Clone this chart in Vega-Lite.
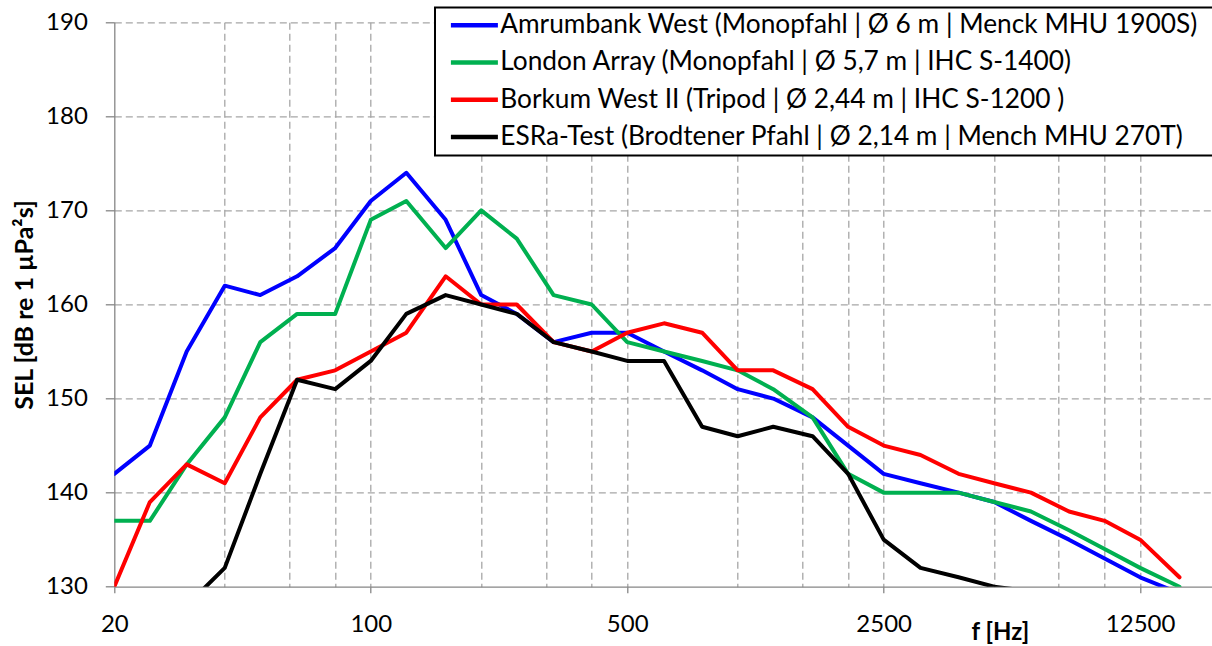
{
  "$schema": "https://vega.github.io/schema/vega-lite/v6.json",
  "width": 1098,
  "height": 564.4,
  "autosize": {"type": "none"},
  "padding": {"left": 114.3, "top": 22.3, "right": 0, "bottom": 59.3},
  "background": "white",
  "config": {
    "view": {"stroke": null},
    "font": "Lato",
    "legend": {"strokeWidth": 2}
  },
  "datasets": {
    "sel": [
      {"f": 20, "SEL": 142, "Anlage": "Amrumbank West (Monopfahl | Ø 6 m | Menck MHU 1900S)"},
      {"f": 25, "SEL": 145, "Anlage": "Amrumbank West (Monopfahl | Ø 6 m | Menck MHU 1900S)"},
      {"f": 31.5, "SEL": 155, "Anlage": "Amrumbank West (Monopfahl | Ø 6 m | Menck MHU 1900S)"},
      {"f": 40, "SEL": 162, "Anlage": "Amrumbank West (Monopfahl | Ø 6 m | Menck MHU 1900S)"},
      {"f": 50, "SEL": 161, "Anlage": "Amrumbank West (Monopfahl | Ø 6 m | Menck MHU 1900S)"},
      {"f": 63, "SEL": 163, "Anlage": "Amrumbank West (Monopfahl | Ø 6 m | Menck MHU 1900S)"},
      {"f": 80, "SEL": 166, "Anlage": "Amrumbank West (Monopfahl | Ø 6 m | Menck MHU 1900S)"},
      {"f": 100, "SEL": 171, "Anlage": "Amrumbank West (Monopfahl | Ø 6 m | Menck MHU 1900S)"},
      {"f": 125, "SEL": 174, "Anlage": "Amrumbank West (Monopfahl | Ø 6 m | Menck MHU 1900S)"},
      {"f": 160, "SEL": 169, "Anlage": "Amrumbank West (Monopfahl | Ø 6 m | Menck MHU 1900S)"},
      {"f": 200, "SEL": 161, "Anlage": "Amrumbank West (Monopfahl | Ø 6 m | Menck MHU 1900S)"},
      {"f": 250, "SEL": 159, "Anlage": "Amrumbank West (Monopfahl | Ø 6 m | Menck MHU 1900S)"},
      {"f": 315, "SEL": 156, "Anlage": "Amrumbank West (Monopfahl | Ø 6 m | Menck MHU 1900S)"},
      {"f": 400, "SEL": 157, "Anlage": "Amrumbank West (Monopfahl | Ø 6 m | Menck MHU 1900S)"},
      {"f": 500, "SEL": 157, "Anlage": "Amrumbank West (Monopfahl | Ø 6 m | Menck MHU 1900S)"},
      {"f": 630, "SEL": 155, "Anlage": "Amrumbank West (Monopfahl | Ø 6 m | Menck MHU 1900S)"},
      {"f": 800, "SEL": 153, "Anlage": "Amrumbank West (Monopfahl | Ø 6 m | Menck MHU 1900S)"},
      {"f": 1000, "SEL": 151, "Anlage": "Amrumbank West (Monopfahl | Ø 6 m | Menck MHU 1900S)"},
      {"f": 1250, "SEL": 150, "Anlage": "Amrumbank West (Monopfahl | Ø 6 m | Menck MHU 1900S)"},
      {"f": 1600, "SEL": 148, "Anlage": "Amrumbank West (Monopfahl | Ø 6 m | Menck MHU 1900S)"},
      {"f": 2000, "SEL": 145, "Anlage": "Amrumbank West (Monopfahl | Ø 6 m | Menck MHU 1900S)"},
      {"f": 2500, "SEL": 142, "Anlage": "Amrumbank West (Monopfahl | Ø 6 m | Menck MHU 1900S)"},
      {"f": 3150, "SEL": 141, "Anlage": "Amrumbank West (Monopfahl | Ø 6 m | Menck MHU 1900S)"},
      {"f": 4000, "SEL": 140, "Anlage": "Amrumbank West (Monopfahl | Ø 6 m | Menck MHU 1900S)"},
      {"f": 5000, "SEL": 139, "Anlage": "Amrumbank West (Monopfahl | Ø 6 m | Menck MHU 1900S)"},
      {"f": 6300, "SEL": 137, "Anlage": "Amrumbank West (Monopfahl | Ø 6 m | Menck MHU 1900S)"},
      {"f": 8000, "SEL": 135, "Anlage": "Amrumbank West (Monopfahl | Ø 6 m | Menck MHU 1900S)"},
      {"f": 10000, "SEL": 133, "Anlage": "Amrumbank West (Monopfahl | Ø 6 m | Menck MHU 1900S)"},
      {"f": 12500, "SEL": 131, "Anlage": "Amrumbank West (Monopfahl | Ø 6 m | Menck MHU 1900S)"},
      {"f": 16000, "SEL": 129.3, "Anlage": "Amrumbank West (Monopfahl | Ø 6 m | Menck MHU 1900S)"},
      {"f": 20, "SEL": 137, "Anlage": "London Array (Monopfahl | Ø 5,7 m | IHC S-1400)"},
      {"f": 25, "SEL": 137, "Anlage": "London Array (Monopfahl | Ø 5,7 m | IHC S-1400)"},
      {"f": 31.5, "SEL": 143, "Anlage": "London Array (Monopfahl | Ø 5,7 m | IHC S-1400)"},
      {"f": 40, "SEL": 148, "Anlage": "London Array (Monopfahl | Ø 5,7 m | IHC S-1400)"},
      {"f": 50, "SEL": 156, "Anlage": "London Array (Monopfahl | Ø 5,7 m | IHC S-1400)"},
      {"f": 63, "SEL": 159, "Anlage": "London Array (Monopfahl | Ø 5,7 m | IHC S-1400)"},
      {"f": 80, "SEL": 159, "Anlage": "London Array (Monopfahl | Ø 5,7 m | IHC S-1400)"},
      {"f": 100, "SEL": 169, "Anlage": "London Array (Monopfahl | Ø 5,7 m | IHC S-1400)"},
      {"f": 125, "SEL": 171, "Anlage": "London Array (Monopfahl | Ø 5,7 m | IHC S-1400)"},
      {"f": 160, "SEL": 166, "Anlage": "London Array (Monopfahl | Ø 5,7 m | IHC S-1400)"},
      {"f": 200, "SEL": 170, "Anlage": "London Array (Monopfahl | Ø 5,7 m | IHC S-1400)"},
      {"f": 250, "SEL": 167, "Anlage": "London Array (Monopfahl | Ø 5,7 m | IHC S-1400)"},
      {"f": 315, "SEL": 161, "Anlage": "London Array (Monopfahl | Ø 5,7 m | IHC S-1400)"},
      {"f": 400, "SEL": 160, "Anlage": "London Array (Monopfahl | Ø 5,7 m | IHC S-1400)"},
      {"f": 500, "SEL": 156, "Anlage": "London Array (Monopfahl | Ø 5,7 m | IHC S-1400)"},
      {"f": 630, "SEL": 155, "Anlage": "London Array (Monopfahl | Ø 5,7 m | IHC S-1400)"},
      {"f": 800, "SEL": 154, "Anlage": "London Array (Monopfahl | Ø 5,7 m | IHC S-1400)"},
      {"f": 1000, "SEL": 153, "Anlage": "London Array (Monopfahl | Ø 5,7 m | IHC S-1400)"},
      {"f": 1250, "SEL": 151, "Anlage": "London Array (Monopfahl | Ø 5,7 m | IHC S-1400)"},
      {"f": 1600, "SEL": 148, "Anlage": "London Array (Monopfahl | Ø 5,7 m | IHC S-1400)"},
      {"f": 2000, "SEL": 142, "Anlage": "London Array (Monopfahl | Ø 5,7 m | IHC S-1400)"},
      {"f": 2500, "SEL": 140, "Anlage": "London Array (Monopfahl | Ø 5,7 m | IHC S-1400)"},
      {"f": 3150, "SEL": 140, "Anlage": "London Array (Monopfahl | Ø 5,7 m | IHC S-1400)"},
      {"f": 4000, "SEL": 140, "Anlage": "London Array (Monopfahl | Ø 5,7 m | IHC S-1400)"},
      {"f": 5000, "SEL": 139, "Anlage": "London Array (Monopfahl | Ø 5,7 m | IHC S-1400)"},
      {"f": 6300, "SEL": 138, "Anlage": "London Array (Monopfahl | Ø 5,7 m | IHC S-1400)"},
      {"f": 8000, "SEL": 136, "Anlage": "London Array (Monopfahl | Ø 5,7 m | IHC S-1400)"},
      {"f": 10000, "SEL": 134, "Anlage": "London Array (Monopfahl | Ø 5,7 m | IHC S-1400)"},
      {"f": 12500, "SEL": 132, "Anlage": "London Array (Monopfahl | Ø 5,7 m | IHC S-1400)"},
      {"f": 16000, "SEL": 130, "Anlage": "London Array (Monopfahl | Ø 5,7 m | IHC S-1400)"},
      {"f": 20, "SEL": 130, "Anlage": "Borkum West II (Tripod | Ø 2,44 m | IHC S-1200 )"},
      {"f": 25, "SEL": 139, "Anlage": "Borkum West II (Tripod | Ø 2,44 m | IHC S-1200 )"},
      {"f": 31.5, "SEL": 143, "Anlage": "Borkum West II (Tripod | Ø 2,44 m | IHC S-1200 )"},
      {"f": 40, "SEL": 141, "Anlage": "Borkum West II (Tripod | Ø 2,44 m | IHC S-1200 )"},
      {"f": 50, "SEL": 148, "Anlage": "Borkum West II (Tripod | Ø 2,44 m | IHC S-1200 )"},
      {"f": 63, "SEL": 152, "Anlage": "Borkum West II (Tripod | Ø 2,44 m | IHC S-1200 )"},
      {"f": 80, "SEL": 153, "Anlage": "Borkum West II (Tripod | Ø 2,44 m | IHC S-1200 )"},
      {"f": 100, "SEL": 155, "Anlage": "Borkum West II (Tripod | Ø 2,44 m | IHC S-1200 )"},
      {"f": 125, "SEL": 157, "Anlage": "Borkum West II (Tripod | Ø 2,44 m | IHC S-1200 )"},
      {"f": 160, "SEL": 163, "Anlage": "Borkum West II (Tripod | Ø 2,44 m | IHC S-1200 )"},
      {"f": 200, "SEL": 160, "Anlage": "Borkum West II (Tripod | Ø 2,44 m | IHC S-1200 )"},
      {"f": 250, "SEL": 160, "Anlage": "Borkum West II (Tripod | Ø 2,44 m | IHC S-1200 )"},
      {"f": 315, "SEL": 156, "Anlage": "Borkum West II (Tripod | Ø 2,44 m | IHC S-1200 )"},
      {"f": 400, "SEL": 155, "Anlage": "Borkum West II (Tripod | Ø 2,44 m | IHC S-1200 )"},
      {"f": 500, "SEL": 157, "Anlage": "Borkum West II (Tripod | Ø 2,44 m | IHC S-1200 )"},
      {"f": 630, "SEL": 158, "Anlage": "Borkum West II (Tripod | Ø 2,44 m | IHC S-1200 )"},
      {"f": 800, "SEL": 157, "Anlage": "Borkum West II (Tripod | Ø 2,44 m | IHC S-1200 )"},
      {"f": 1000, "SEL": 153, "Anlage": "Borkum West II (Tripod | Ø 2,44 m | IHC S-1200 )"},
      {"f": 1250, "SEL": 153, "Anlage": "Borkum West II (Tripod | Ø 2,44 m | IHC S-1200 )"},
      {"f": 1600, "SEL": 151, "Anlage": "Borkum West II (Tripod | Ø 2,44 m | IHC S-1200 )"},
      {"f": 2000, "SEL": 147, "Anlage": "Borkum West II (Tripod | Ø 2,44 m | IHC S-1200 )"},
      {"f": 2500, "SEL": 145, "Anlage": "Borkum West II (Tripod | Ø 2,44 m | IHC S-1200 )"},
      {"f": 3150, "SEL": 144, "Anlage": "Borkum West II (Tripod | Ø 2,44 m | IHC S-1200 )"},
      {"f": 4000, "SEL": 142, "Anlage": "Borkum West II (Tripod | Ø 2,44 m | IHC S-1200 )"},
      {"f": 5000, "SEL": 141, "Anlage": "Borkum West II (Tripod | Ø 2,44 m | IHC S-1200 )"},
      {"f": 6300, "SEL": 140, "Anlage": "Borkum West II (Tripod | Ø 2,44 m | IHC S-1200 )"},
      {"f": 8000, "SEL": 138, "Anlage": "Borkum West II (Tripod | Ø 2,44 m | IHC S-1200 )"},
      {"f": 10000, "SEL": 137, "Anlage": "Borkum West II (Tripod | Ø 2,44 m | IHC S-1200 )"},
      {"f": 12500, "SEL": 135, "Anlage": "Borkum West II (Tripod | Ø 2,44 m | IHC S-1200 )"},
      {"f": 16000, "SEL": 131, "Anlage": "Borkum West II (Tripod | Ø 2,44 m | IHC S-1200 )"},
      {"f": 31.5, "SEL": 128, "Anlage": "ESRa-Test (Brodtener Pfahl | Ø 2,14 m | Mench MHU 270T)"},
      {"f": 40, "SEL": 132, "Anlage": "ESRa-Test (Brodtener Pfahl | Ø 2,14 m | Mench MHU 270T)"},
      {"f": 50, "SEL": 142, "Anlage": "ESRa-Test (Brodtener Pfahl | Ø 2,14 m | Mench MHU 270T)"},
      {"f": 63, "SEL": 152, "Anlage": "ESRa-Test (Brodtener Pfahl | Ø 2,14 m | Mench MHU 270T)"},
      {"f": 80, "SEL": 151, "Anlage": "ESRa-Test (Brodtener Pfahl | Ø 2,14 m | Mench MHU 270T)"},
      {"f": 100, "SEL": 154, "Anlage": "ESRa-Test (Brodtener Pfahl | Ø 2,14 m | Mench MHU 270T)"},
      {"f": 125, "SEL": 159, "Anlage": "ESRa-Test (Brodtener Pfahl | Ø 2,14 m | Mench MHU 270T)"},
      {"f": 160, "SEL": 161, "Anlage": "ESRa-Test (Brodtener Pfahl | Ø 2,14 m | Mench MHU 270T)"},
      {"f": 200, "SEL": 160, "Anlage": "ESRa-Test (Brodtener Pfahl | Ø 2,14 m | Mench MHU 270T)"},
      {"f": 250, "SEL": 159, "Anlage": "ESRa-Test (Brodtener Pfahl | Ø 2,14 m | Mench MHU 270T)"},
      {"f": 315, "SEL": 156, "Anlage": "ESRa-Test (Brodtener Pfahl | Ø 2,14 m | Mench MHU 270T)"},
      {"f": 400, "SEL": 155, "Anlage": "ESRa-Test (Brodtener Pfahl | Ø 2,14 m | Mench MHU 270T)"},
      {"f": 500, "SEL": 154, "Anlage": "ESRa-Test (Brodtener Pfahl | Ø 2,14 m | Mench MHU 270T)"},
      {"f": 630, "SEL": 154, "Anlage": "ESRa-Test (Brodtener Pfahl | Ø 2,14 m | Mench MHU 270T)"},
      {"f": 800, "SEL": 147, "Anlage": "ESRa-Test (Brodtener Pfahl | Ø 2,14 m | Mench MHU 270T)"},
      {"f": 1000, "SEL": 146, "Anlage": "ESRa-Test (Brodtener Pfahl | Ø 2,14 m | Mench MHU 270T)"},
      {"f": 1250, "SEL": 147, "Anlage": "ESRa-Test (Brodtener Pfahl | Ø 2,14 m | Mench MHU 270T)"},
      {"f": 1600, "SEL": 146, "Anlage": "ESRa-Test (Brodtener Pfahl | Ø 2,14 m | Mench MHU 270T)"},
      {"f": 2000, "SEL": 142, "Anlage": "ESRa-Test (Brodtener Pfahl | Ø 2,14 m | Mench MHU 270T)"},
      {"f": 2500, "SEL": 135, "Anlage": "ESRa-Test (Brodtener Pfahl | Ø 2,14 m | Mench MHU 270T)"},
      {"f": 3150, "SEL": 132, "Anlage": "ESRa-Test (Brodtener Pfahl | Ø 2,14 m | Mench MHU 270T)"},
      {"f": 4000, "SEL": 131, "Anlage": "ESRa-Test (Brodtener Pfahl | Ø 2,14 m | Mench MHU 270T)"},
      {"f": 5000, "SEL": 130, "Anlage": "ESRa-Test (Brodtener Pfahl | Ø 2,14 m | Mench MHU 270T)"},
      {"f": 6300, "SEL": 129.5, "Anlage": "ESRa-Test (Brodtener Pfahl | Ø 2,14 m | Mench MHU 270T)"}
    ]
  },
  "data": {"name": "sel"},
  "mark": {"type": "line", "strokeWidth": 4, "strokeJoin": "round", "strokeCap": "round", "clip": true},
  "encoding": {
    "x": {
      "field": "f",
      "type": "quantitative",
      "scale": {"type": "log", "domain": [20, 19660], "nice": false},
      "axis": {
        "values": [20, 40, 60, 80, 100, 200, 300, 400, 500, 1000, 1500, 2000, 2500, 5000, 7500, 10000, 12500],
        "format": "d",
        "labelExpr": "(datum.value == 20 || datum.value == 100 || datum.value == 500 || datum.value == 2500 || datum.value == 12500) ? datum.label : ''",
        "labelOverlap": false,
        "labelFlush": false,
        "labelFont": "Lato",
        "labelFontSize": 24,
        "labelColor": "#000000",
        "labelPadding": 20,
        "tickSize": 6,
        "tickWidth": 1.3,
        "tickColor": "#868686",
        "tickOpacity": {"condition": {"test": "datum.value == 20 || datum.value == 100 || datum.value == 500 || datum.value == 2500 || datum.value == 12500", "value": 1}, "value": 0},
        "grid": true,
        "gridColor": "#A6A6A6",
        "gridWidth": 1.3,
        "gridDash": [7, 4],
        "gridOpacity": {"condition": {"test": "datum.value == 20", "value": 0}, "value": 1},
        "domainColor": "#868686",
        "domainWidth": 1.3,
        "title": "f [Hz]",
        "titleFont": "Lato",
        "titleFontSize": 24,
        "titleFontWeight": "bold",
        "titleColor": "#000000",
        "titleAlign": "center",
        "titleBaseline": "middle",
        "titleX": 885.7,
        "titleY": 46
      }
    },
    "y": {
      "field": "SEL",
      "type": "quantitative",
      "scale": {"domain": [130, 190], "nice": false, "zero": false},
      "axis": {
        "values": [130, 140, 150, 160, 170, 180, 190],
        "labelFont": "Lato",
        "labelFontSize": 24,
        "labelColor": "#000000",
        "labelPadding": 18,
        "tickSize": 9,
        "tickWidth": 1.3,
        "tickColor": "#868686",
        "grid": true,
        "gridColor": "#A6A6A6",
        "gridWidth": 1.3,
        "gridDash": [7, 4],
        "gridOpacity": {"condition": {"test": "datum.value == 130", "value": 0}, "value": 1},
        "domainColor": "#868686",
        "domainWidth": 1.3,
        "title": "SEL [dB re 1 µPa²s]",
        "titleFont": "Lato",
        "titleFontSize": 25,
        "titleFontWeight": "bold",
        "titleColor": "#000000",
        "titleBaseline": "middle",
        "titleX": -90
      }
    },
    "color": {
      "field": "Anlage",
      "type": "nominal",
      "scale": {
        "domain": [
          "Amrumbank West (Monopfahl | Ø 6 m | Menck MHU 1900S)",
          "London Array (Monopfahl | Ø 5,7 m | IHC S-1400)",
          "Borkum West II (Tripod | Ø 2,44 m | IHC S-1200 )",
          "ESRa-Test (Brodtener Pfahl | Ø 2,14 m | Mench MHU 270T)"
        ],
        "range": ["#0000FF", "#00B050", "#FF0000", "#000000"]
      },
      "legend": {
        "orient": "none",
        "legendX": 320.7,
        "legendY": -14.8,
        "title": " ",
        "titleOrient": "right",
        "titleFontSize": 8,
        "titlePadding": 12,
        "symbolType": "M-2.35,0H2.35",
        "symbolSize": 400,
        "symbolStrokeWidth": 4.5,
        "symbolOffset": 21.75,
        "labelFont": "Lato",
        "labelFontSize": 26.3,
        "labelColor": "#000000",
        "labelLimit": 0,
        "labelOffset": 12.7,
        "rowPadding": 10.3,
        "padding": 4.5,
        "strokeColor": "#000000",
        "fillColor": "#FFFFFF"
      }
    }
  }
}
